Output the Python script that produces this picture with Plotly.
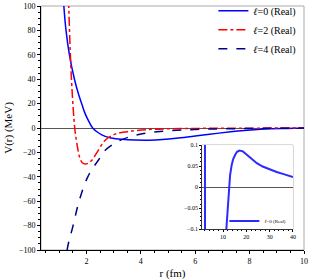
import plotly.graph_objects as go

# l = 0 (Real) potential, MeV (main plot + inset range)
r_l0 = [1.10, 1.17, 1.25, 1.375, 1.56, 1.72, 1.84, 1.93, 2.05, 2.23, 2.45, 2.69, 2.9, 3.3,
        3.8, 4.3, 4.8, 5.3, 5.8, 6.3, 6.8, 7.3, 7.8, 8.3, 8.8, 9.4, 10.0,
        11.4, 12.0, 12.6, 13.0, 13.7, 14.3, 15.2, 16.0, 17.0, 18.5, 20.2, 22.0, 24.5,
        27.0, 30.3, 33.0, 36.0, 40.0]
v_l0 = [130, 100, 80, 60, 40, 27, 19, 13, 7, 0, -4.1, -6.9, -8.2, -9.3,
        -9.9, -10, -9.5, -8.5, -7.2, -5.8, -4.4, -3.1, -2.0, -1.2, -0.7, -0.35, -0.15,
        -0.1, -0.045, 0.0, 0.028, 0.053, 0.066, 0.077, 0.084, 0.087, 0.085, 0.077, 0.069, 0.057,
        0.049, 0.041, 0.036, 0.031, 0.024]

# l = 2 (Real)
r_l2 = [1.30, 1.35, 1.45, 1.57, 1.63, 1.69, 1.75, 1.85, 1.96, 2.07, 2.2, 2.39, 2.69, 3.06,
        3.5, 3.86, 4.5, 5.5, 7.0, 8.5, 10.0]
v_l2 = [150, 100, 40, 0, -10, -18, -24, -28.5, -29.5, -28.8, -26.5, -20, -10, -5,
        -3, -2, -1, -0.5, -0.2, -0.1, 0]

# l = 4 (Real)
r_l4 = [1.20, 1.29, 1.51, 1.73, 2.05, 2.45, 2.70, 3.0, 3.3, 3.7, 4.1, 4.7, 5.5, 6.5, 8.0, 10.0]
v_l4 = [-130, -100, -80, -60, -40, -26, -18, -13, -9.5, -6.5, -4.5, -2.8, -1.7, -0.9, -0.4, -0.1]

FONT = "Liberation Serif"

fig = go.Figure()
fig.add_trace(go.Scatter(x=r_l0, y=v_l0, mode="lines", name="<i>ℓ</i>=0 (Real)",
                         line=dict(color="#0000ff", width=1.5, shape="spline", smoothing=1)))
fig.add_trace(go.Scatter(x=r_l2, y=v_l2, mode="lines", name="<i>ℓ</i>=2 (Real)",
                         line=dict(color="#ff0000", width=1.5, dash="dashdot", shape="spline", smoothing=1)))
fig.add_trace(go.Scatter(x=r_l4, y=v_l4, mode="lines", name="<i>ℓ</i>=4 (Real)",
                         line=dict(color="#00008b", width=1.5, dash="dash", shape="spline", smoothing=1)))
# inset
fig.add_trace(go.Scatter(x=r_l0, y=v_l0, mode="lines", name="<i>ℓ</i>=0 (Real)",
                         xaxis="x2", yaxis="y2", legend="legend2",
                         line=dict(color="#2b2bff", width=2, shape="linear")))

ix0, ix1, iy0, iy1 = 0.6126, 0.958, 0.085, 0.430

fig.update_layout(
    width=312, height=280,
    margin=dict(l=41, r=8, t=6, b=30, autoexpand=False),
    paper_bgcolor="white", plot_bgcolor="white",
    font=dict(family=FONT, size=8, color="black"),
    xaxis=dict(range=[0.33, 10], domain=[0, 1], tick0=0, dtick=2, ticks="outside", ticklen=3,
               tickwidth=1, tickcolor="black", showline=True, linecolor="black", linewidth=1,
               showgrid=False, zeroline=False, automargin=False,
               minor=dict(dtick=0.5, ticks="outside", ticklen=2, tickcolor="black", showgrid=False),
               title=dict(text="r (fm)", font=dict(size=11, family=FONT), standoff=6),
               tickfont=dict(size=8, family=FONT)),
    yaxis=dict(range=[-100, 100], domain=[0, 1], tick0=0, dtick=20, ticks="outside", ticklen=3,
               tickwidth=1, tickcolor="black", showline=True, linecolor="black", linewidth=1,
               showgrid=False, zeroline=True, zerolinecolor="#555555", zerolinewidth=1,
               automargin=False,
               minor=dict(dtick=5, ticks="outside", ticklen=2, tickcolor="black", showgrid=False),
               title=dict(text="V(r) (MeV)", font=dict(size=11, family=FONT), standoff=4),
               tickfont=dict(size=8, family=FONT)),
    xaxis2=dict(range=[1, 40], domain=[ix0, ix1], anchor="y2", tick0=0, dtick=10,
                ticks="outside", ticklen=2, tickcolor="black", showline=True, linecolor="#333333",
                showgrid=False, zeroline=False, automargin=False,
                minor=dict(dtick=2, ticks="outside", ticklen=1, tickcolor="black", showgrid=False),
                tickfont=dict(size=6, family=FONT)),
    yaxis2=dict(range=[-0.1, 0.1], domain=[iy0, iy1], anchor="x2", dtick=0.05,
                ticks="outside", ticklen=2, tickcolor="black", showline=True, linecolor="#333333",
                showgrid=False, zeroline=True, zerolinecolor="#555555", zerolinewidth=1,
                automargin=False,
                minor=dict(dtick=0.01, ticks="outside", ticklen=1, tickcolor="black", showgrid=False),
                tickfont=dict(size=6, family=FONT)),
    legend=dict(x=0.99, y=1.04, xanchor="right", yanchor="top", bgcolor="rgba(0,0,0,0)",
                font=dict(size=10, family=FONT), tracegroupgap=0, itemwidth=30),
    legend2=dict(x=0.952, y=0.119, xanchor="right", yanchor="middle", bgcolor="rgba(0,0,0,0)",
                 font=dict(size=5, family=FONT), itemwidth=30),
    showlegend=True,
    shapes=[
        dict(type="rect", xref="paper", yref="paper", x0=0, x1=1, y0=0, y1=1,
             line=dict(color="#aaaaaa", width=1), layer="below"),
        dict(type="rect", xref="paper", yref="paper", x0=ix0, x1=ix1, y0=iy0, y1=iy1,
             line=dict(color="#aaaaaa", width=1), fillcolor="white", layer="below"),
    ],
)

fig.write_html("out.html", config={"displayModeBar": False},
               post_script="document.body.style.margin='0';")
